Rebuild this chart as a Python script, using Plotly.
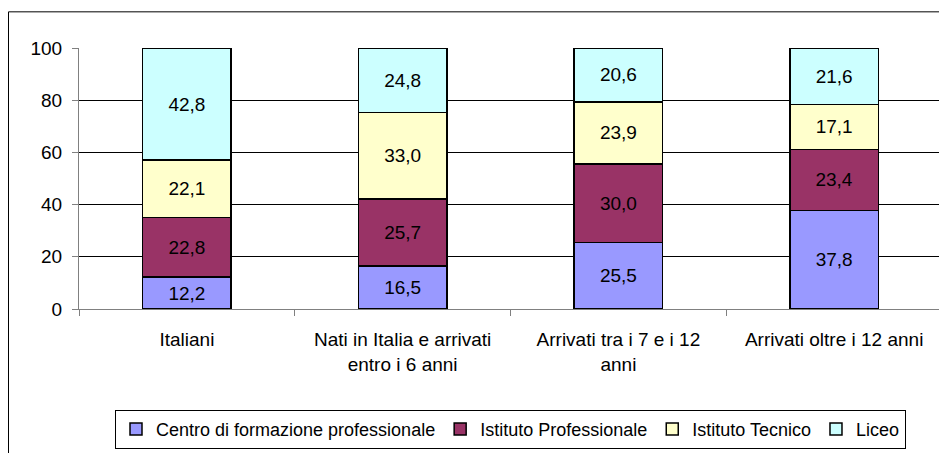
import plotly.graph_objects as go

# Categorie (gruppi di studenti) e quote per tipo di scuola (%)
categorie = [
    "Italiani",
    "Nati in Italia e arrivati<br>entro i 6 anni",
    "Arrivati tra i 7 e i 12<br>anni",
    "Arrivati oltre i 12 anni",
]
centro_formazione = [12.2, 16.5, 25.5, 37.8]
istituto_professionale = [22.8, 25.7, 30.0, 23.4]
istituto_tecnico = [22.1, 33.0, 23.9, 17.1]
liceo = [42.8, 24.8, 20.6, 21.6]

serie = [
    ("Centro di formazione professionale", centro_formazione, "#9999FF"),
    ("Istituto Professionale", istituto_professionale, "#993366"),
    ("Istituto Tecnico", istituto_tecnico, "#FFFFCC"),
    ("Liceo", liceo, "#CCFFFF"),
]

FONT = dict(family="Liberation Sans, Arial, sans-serif", size=19, color="black")

fig = go.Figure()
for nome, valori, colore in serie:
    fig.add_trace(go.Bar(
        x=categorie,
        y=valori,
        name=nome,
        marker=dict(color=colore, line=dict(color="black", width=1.5)),
        texttemplate="%{y:.1f}",
        textposition="inside",
        insidetextanchor="middle",
        textfont=dict(color="black", size=19),
        constraintext="none",
    ))

# la pagina ha 8px di margine: area grafico 71..934 x 40..307 px nella figura
L, T, W, H = 71, 40, 863, 267
B = T + H


def px(x):
    return (x - L) / W


def py(y):
    return (B - y) / H


# cornice esterna
fig.add_shape(type="rect", xref="paper", yref="paper",
              x0=px(0.5), x1=px(960), y0=py(470), y1=py(3),
              line=dict(color="black", width=1), layer="below")

fig.update_layout(
    width=939, height=445,
    margin=dict(l=L, r=939 - L - W, t=T, b=445 - B),
    paper_bgcolor="white",
    plot_bgcolor="white",
    barmode="stack",
    bargap=0.59,
    separators=",.",
    font=FONT,
    showlegend=True,
    legend=dict(
        orientation="h",
        x=0.5, xanchor="center",
        y=py(410), yanchor="top",
        bordercolor="black", borderwidth=1,
        font=dict(size=18),
        traceorder="normal",
        itemwidth=30,
        tracegroupgap=0,
    ),
    uniformtext=dict(minsize=18, mode="show"),
)

fig.update_xaxes(
    type="category",
    showline=True, linecolor="#808080", linewidth=1,
    ticks="outside", tickson="boundaries", ticklen=6, tickcolor="#808080",
    showgrid=False,
    ticklabelstandoff=13,
    tickfont=dict(size=19),
)
fig.update_yaxes(
    range=[0, 100],
    dtick=20,
    showline=True, linecolor="#808080", linewidth=1, mirror=True,
    ticks="outside", ticklen=6, tickcolor="#808080",
    showgrid=True, gridcolor="black", gridwidth=1,
    zeroline=False,
    ticklabelstandoff=6,
    tickfont=dict(size=19),
)

fig.write_html("out.html")
